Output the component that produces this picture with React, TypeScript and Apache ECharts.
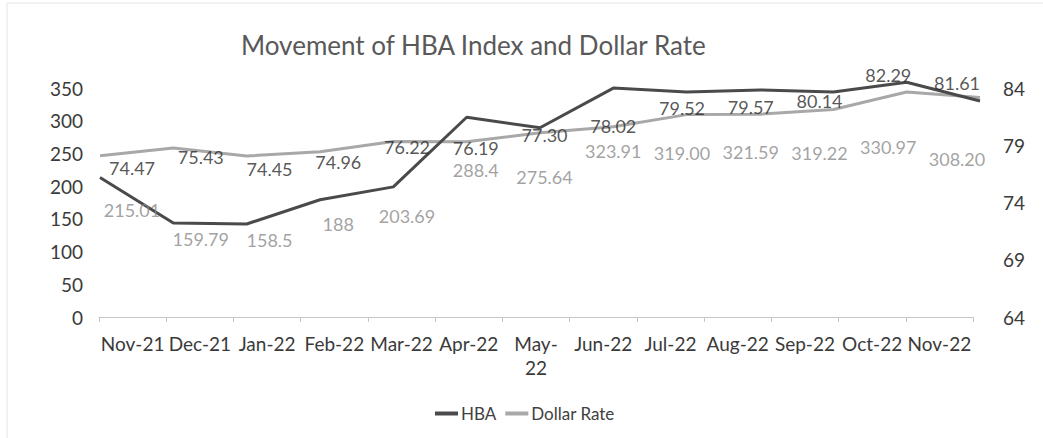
import React, { useEffect, useRef } from "react";
import * as echarts from "echarts";

const categories = ["Nov-21", "Dec-21", "Jan-22", "Feb-22", "Mar-22", "Apr-22", "May-22", "Jun-22", "Jul-22", "Aug-22", "Sep-22", "Oct-22", "Nov-22"];
const hbaLabelText = ["215.01", "159.79", "158.5", "188", "203.69", "288.4", "275.64", "323.91", "319.00", "321.59", "319.22", "330.97", "308.20"];
const hbaValues = hbaLabelText.map(Number);
const dollarValues = [74.47, 75.43, 74.45, 74.96, 76.22, 76.19, 77.3, 78.02, 79.52, 79.57, 80.14, 82.29, 81.61];
const leftTicks = { min: 0, max: 350, interval: 50 };
const rightTicks = { min: 64, max: 84, interval: 5 };

const FONT = "Lato";

export default function App() {
  const ref = useRef<HTMLDivElement>(null);
  useEffect(() => {
    if (!ref.current) return;
    const chart = echarts.init(ref.current, null, { renderer: "svg" });
    const grid = { top: 88, height: 229 };
    chart.setOption({
      animation: false,
      backgroundColor: "#ffffff",
      textStyle: { fontFamily: FONT },
      title: {
        text: "Movement of HBA Index and Dollar Rate",
        left: 236,
        top: 27,
        textStyle: { fontFamily: FONT, fontSize: 26, fontWeight: "normal", color: "#595959" },
      },
      legend: {
        data: ["HBA", "Dollar Rate"],
        icon: "rect",
        top: 400,
        left: 430,
        itemWidth: 23,
        itemHeight: 4,
        itemGap: 9,
        textStyle: { fontFamily: FONT, fontSize: 17, color: "#404040", padding: [0, 0, 0, -2] },
      },
      graphic: [
        { type: "rect", shape: { x: 7, y: 3, width: 1100, height: 500 }, style: { fill: "none", stroke: "#e4e4e4", lineWidth: 1 }, silent: true },
      ],
      grid: [
        { left: 99, right: 70, ...grid },
        { left: 132, right: 86, ...grid },
        { left: 100, right: 63, ...grid },
      ],
      xAxis: [
        {
          gridIndex: 0,
          type: "category",
          data: categories,
          boundaryGap: true,
          axisLine: { lineStyle: { color: "#c6c6c6", width: 1 } },
          axisTick: { show: true, length: 5, lineStyle: { color: "#c6c6c6" } },
          axisLabel: {
            interval: 0,
            margin: 14,
            fontFamily: FONT,
            fontSize: 19,
            color: "#3a3a3a",
            lineHeight: 24,
            formatter: (v: string) => (v === "May-22" ? "May-\n22" : v),
          },
        },
        { gridIndex: 1, type: "category", data: categories, boundaryGap: false, show: false },
        { gridIndex: 2, type: "category", data: categories, boundaryGap: false, show: false },
      ],
      yAxis: [
        {
          gridIndex: 0,
          type: "value",
          position: "left",
          ...leftTicks,
          splitLine: { show: false },
          axisLine: { show: false },
          axisTick: { show: false },
          axisLabel: { margin: 16, fontFamily: FONT, fontSize: 19, color: "#3a3a3a" },
        },
        {
          gridIndex: 0,
          type: "value",
          position: "right",
          ...rightTicks,
          splitLine: { show: false },
          axisLine: { show: false },
          axisTick: { show: false },
          axisLabel: { margin: 30, fontFamily: FONT, fontSize: 19, color: "#3a3a3a" },
        },
        { gridIndex: 1, type: "value", show: false, min: 15.6, max: 440.5 },
        { gridIndex: 1, type: "value", show: false, min: 62.0, max: 81.2 },
        { gridIndex: 2, type: "value", show: false, min: 45.4, max: 324 },
        { gridIndex: 2, type: "value", show: false, min: 54.72, max: 82.78 },
      ],
      series: [
        {
          name: "Dollar Rate",
          type: "line",
          xAxisIndex: 2,
          yAxisIndex: 5,
          data: dollarValues,
          symbol: "none",
          clip: false,
          lineStyle: { color: "#a8a8a8", width: 3 },
          itemStyle: { color: "#a8a8a8" },
          z: 2,
        },
        {
          name: "HBA",
          type: "line",
          xAxisIndex: 2,
          yAxisIndex: 4,
          data: hbaValues,
          symbol: "none",
          clip: false,
          lineStyle: { color: "#4a4a4a", width: 3 },
          itemStyle: { color: "#4a4a4a" },
          z: 3,
        },
        {
          name: "HBA labels",
          type: "scatter",
          xAxisIndex: 1,
          yAxisIndex: 2,
          data: hbaValues,
          symbolSize: 1,
          clip: false,
          itemStyle: { color: "rgba(0,0,0,0)" },
          label: {
            show: true,
            position: "inside",
            formatter: (p: any) => hbaLabelText[p.dataIndex],
            fontFamily: FONT,
            fontSize: 18,
            color: "#8a8a8a",
          },
          z: 4,
        },
        {
          name: "Dollar labels",
          type: "scatter",
          xAxisIndex: 1,
          yAxisIndex: 3,
          data: dollarValues,
          symbolSize: 1,
          clip: false,
          itemStyle: { color: "rgba(0,0,0,0)" },
          label: {
            show: true,
            position: "inside",
            formatter: (p: any) => Number(p.value).toFixed(2),
            fontFamily: FONT,
            fontSize: 18,
            color: "#2b2b2b",
          },
          z: 4,
        },
      ],
    });
    return () => chart.dispose();
  }, []);
  return <div ref={ref} style={{ position: "fixed", left: 0, top: 0, width: 1043, height: 438 }} />;
}
